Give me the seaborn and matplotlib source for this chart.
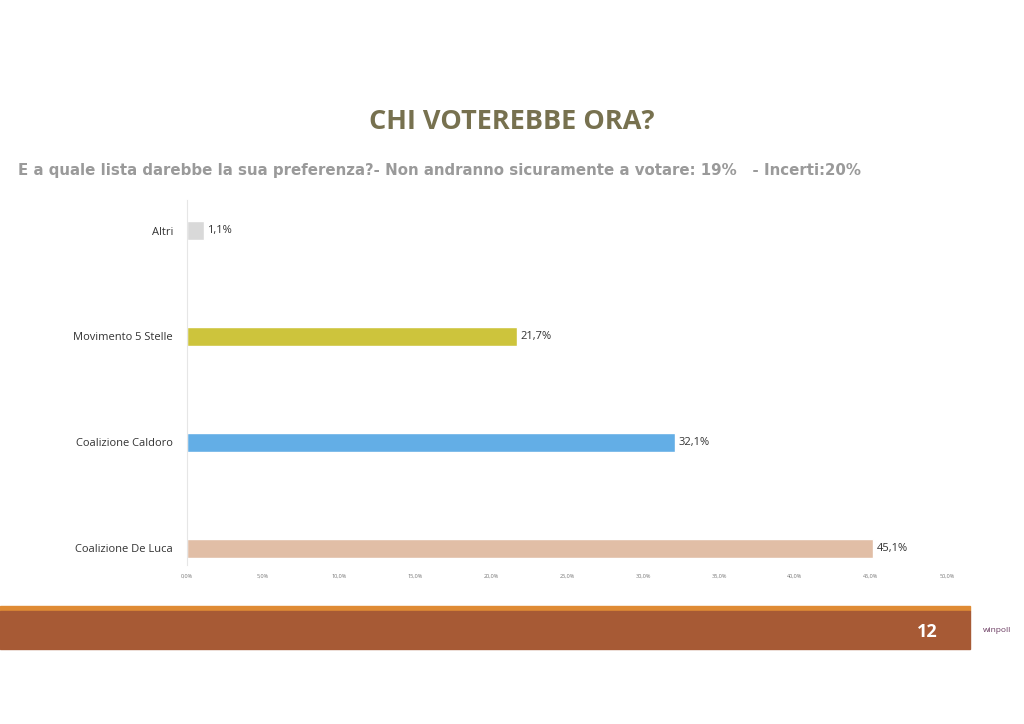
import matplotlib
matplotlib.use("Agg")
import matplotlib.pyplot as plt
import seaborn as sns
import pandas as pd
from matplotlib.patches import Rectangle

# data
liste = ["Altri", "Movimento 5 Stelle", "Coalizione Caldoro", "Coalizione De Luca"]
valori = [1.1, 21.7, 32.1, 45.1]
colori = ["#D9D9D9", "#CDC43C", "#63AEE6", "#E1BEA6"]
tick_valori = [0, 5, 10, 15, 20, 25, 30, 35, 40, 45, 50]

df = pd.DataFrame({"lista": liste, "valore": valori})

sns.set_theme(style="white")
plt.rcParams["font.family"] = ["Open Sans", "DejaVu Sans"]

fig = plt.figure(figsize=(10.24, 7.24), dpi=100)
ax = fig.add_axes([0.1826, 0.2196, 0.7422, 0.5042])

sns.barplot(data=df, x="valore", y="lista", hue="lista", palette=colori,
            order=liste, width=0.18, saturation=1, legend=False, ax=ax)

for i, v in enumerate(valori):
    ax.text(v + 0.25, i, f"{v:.1f}%".replace(".", ","), va="center", ha="left",
            fontsize=8, color="#333333")

ax.set_xlim(0, 50)
ax.set_ylim(3.16, -0.29)
ax.set_xticks(tick_valori)
ax.set_xticklabels([f"{t:.1f}%".replace(".", ",") for t in tick_valori],
                   fontsize=4, color="#777777")
ax.tick_params(axis="y", labelsize=8, colors="#333333", length=0, pad=10)
ax.tick_params(axis="x", length=0, pad=6)
ax.set_xlabel("")
ax.set_ylabel("")
for s in ["top", "right", "bottom"]:
    ax.spines[s].set_visible(False)
ax.spines["left"].set_color("#E6E6E6")
ax.spines["left"].set_linewidth(0.8)

# titles
fig.text(0.5, 1 - 122 / 724, "CHI VOTEREBBE ORA?", ha="center", va="center",
         fontsize=19.5, fontweight="bold", color="#77714F")
fig.text(18 / 1024, 1 - 170 / 724,
         "E a quale lista darebbe la sua preferenza?- Non andranno sicuramente a votare: 19%   - Incerti:20%",
         ha="left", va="center", fontsize=10.8, fontweight="bold", color="#9A9A9A",
         family="DejaVu Sans")

# footer band
fig.patches.append(Rectangle((0, 1 - 611 / 724), 970 / 1024, 5 / 724,
                             transform=fig.transFigure, color="#DF8B34", zorder=0))
fig.patches.append(Rectangle((0, 1 - 649 / 724), 970 / 1024, 38 / 724,
                             transform=fig.transFigure, color="#A75A35", zorder=0))
fig.text(927 / 1024, 1 - 632 / 724, "12", ha="center", va="center",
         fontsize=13, fontweight="bold", color="white")
fig.text(997 / 1024, 1 - 630 / 724, "winpoll", ha="center", va="center",
         fontsize=6, color="#6A3A60")

fig.savefig("out.png", dpi=100)
